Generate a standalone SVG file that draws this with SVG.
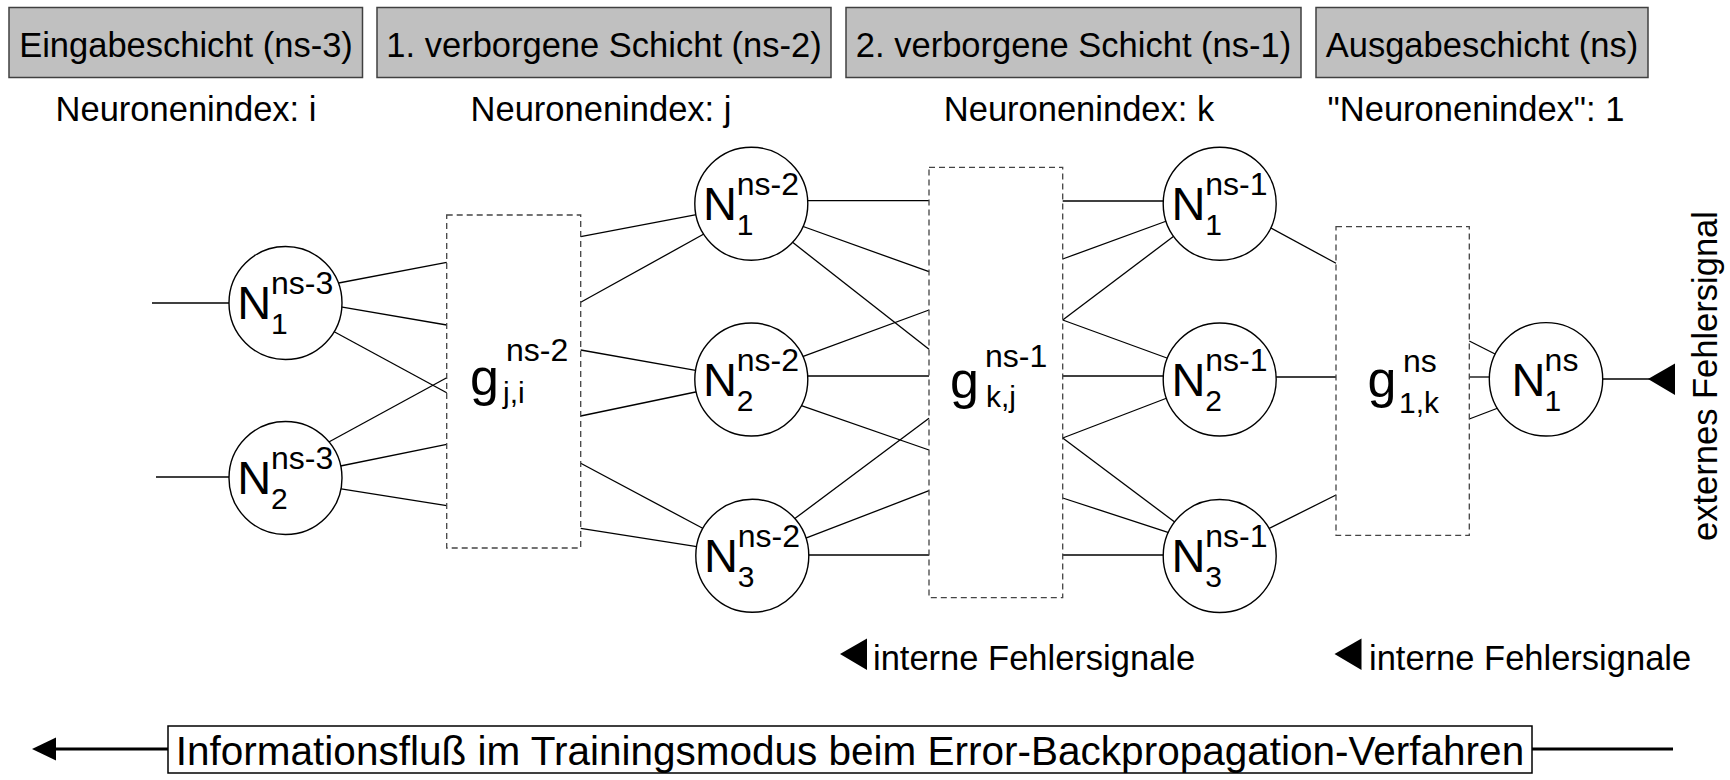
<svg xmlns="http://www.w3.org/2000/svg" width="1730" height="780" viewBox="0 0 1730 780">
<style>
text{font-family:"Liberation Sans",Arial,sans-serif;fill:#000}
.hdr{fill:#c0c0c0;stroke:#404040;stroke-width:1.5}
.ht{font-size:34.5px;text-anchor:middle}
.gbox{fill:none;stroke:#444;stroke-width:1.3;stroke-dasharray:6 4}
.neuron{fill:#fff;stroke:#000;stroke-width:1.4}
.conn line{stroke:#000;stroke-width:1.3}
.big{font-size:47px}
.gg{font-size:52px}
.sup{font-size:32px}
.sub{font-size:30px}
</style>

<g id="headers">
<rect class="hdr" x="9" y="7.5" width="353.5" height="70"/>
<text class="ht" x="186" y="56.5">Eingabeschicht (ns-3)</text>
<rect class="hdr" x="377" y="7.5" width="454" height="70"/>
<text class="ht" x="604" y="56.5">1. verborgene Schicht (ns-2)</text>
<rect class="hdr" x="846" y="7.5" width="455" height="70"/>
<text class="ht" x="1073.5" y="56.5">2. verborgene Schicht (ns-1)</text>
<rect class="hdr" x="1316" y="7.5" width="332" height="70"/>
<text class="ht" x="1482" y="56.5">Ausgabeschicht (ns)</text>
</g>

<g id="indices">
<text class="ht" x="186" y="121">Neuronenindex: i</text>
<text class="ht" x="601" y="121">Neuronenindex: j</text>
<text class="ht" x="1079" y="121">Neuronenindex: k</text>
<text class="ht" x="1476" y="121">"Neuronenindex": 1</text>
</g>

<g id="connectors" class="conn">
<line x1="152" y1="303" x2="232" y2="303"/>
<line x1="156" y1="477" x2="232" y2="477"/>
<!-- ns-3 to g(j,i) -->
<line x1="336" y1="283.5" x2="446.7" y2="262.3"/>
<line x1="338" y1="306.4" x2="446.7" y2="325"/>
<line x1="331" y1="330" x2="446.7" y2="392.7"/>
<line x1="327" y1="443" x2="446.7" y2="377.7"/>
<line x1="338" y1="466.5" x2="446.7" y2="444.3"/>
<line x1="338" y1="488.3" x2="446.7" y2="505.7"/>
<!-- g(j,i) to ns-2 -->
<line x1="580.7" y1="236.7" x2="699" y2="214.2"/>
<line x1="580.7" y1="302.3" x2="707" y2="232.3"/>
<line x1="580.7" y1="350" x2="697" y2="370.6"/>
<line x1="580.7" y1="416" x2="698" y2="391.5"/>
<line x1="580.7" y1="463.3" x2="705" y2="529.5"/>
<line x1="580.7" y1="528.3" x2="700" y2="547.2"/>
<!-- ns-2 to g(k,j) -->
<line x1="804" y1="200.7" x2="929" y2="200.7"/>
<line x1="799" y1="225" x2="929" y2="271.7"/>
<line x1="790" y1="240.3" x2="929" y2="349.3"/>
<line x1="800.5" y1="357.4" x2="929" y2="310"/>
<line x1="804" y1="376" x2="929" y2="376"/>
<line x1="798.5" y1="404.7" x2="929" y2="450"/>
<line x1="792.5" y1="520.3" x2="929" y2="418.3"/>
<line x1="804.5" y1="538.7" x2="929" y2="490.7"/>
<line x1="805" y1="555" x2="929" y2="555"/>
<!-- g(k,j) to ns-1 -->
<line x1="1062.7" y1="201" x2="1167" y2="201"/>
<line x1="1062.7" y1="259" x2="1168" y2="220.5"/>
<line x1="1062.7" y1="320" x2="1176" y2="234.5"/>
<line x1="1062.7" y1="320" x2="1171" y2="359.5"/>
<line x1="1062.7" y1="376" x2="1167" y2="376"/>
<line x1="1062.7" y1="438" x2="1171" y2="396.5"/>
<line x1="1062.7" y1="438" x2="1176" y2="523"/>
<line x1="1062.7" y1="498" x2="1171" y2="533.3"/>
<line x1="1062.7" y1="555" x2="1167" y2="555"/>
<!-- ns-1 to g(1,k) -->
<line x1="1268" y1="226.3" x2="1336" y2="263.3"/>
<line x1="1272" y1="377" x2="1336" y2="377"/>
<line x1="1267" y1="529.5" x2="1336" y2="495"/>
<!-- g(1,k) to ns -->
<line x1="1469.3" y1="341" x2="1499" y2="356"/>
<line x1="1469.3" y1="377" x2="1493" y2="377"/>
<line x1="1469.3" y1="419" x2="1502" y2="406.5"/>
<!-- external error signal -->
<line x1="1600" y1="379" x2="1652" y2="379"/>
<polygon points="1648,379 1675,363.5 1675,395" fill="#000"/>
</g>

<g id="g_ji">
<rect class="gbox" x="446.7" y="215" width="134" height="333"/>
<text class="gg" x="470" y="395">g</text>
<text class="sup" x="506" y="361">ns-2</text>
<text class="sub" x="503" y="403">j,i</text>
</g>
<g id="g_kj">
<rect class="gbox" x="929" y="167.3" width="133.7" height="430.4"/>
<text class="gg" x="950" y="398.3">g</text>
<text class="sup" x="985" y="366.7">ns-1</text>
<text class="sub" x="986" y="407">k,j</text>
</g>
<g id="g_1k">
<rect class="gbox" x="1336" y="226.7" width="133.3" height="308.6"/>
<text class="gg" x="1367.4" y="396.7">g</text>
<text class="sup" x="1403" y="371.7">ns</text>
<text class="sub" x="1399" y="413.3">1,k</text>
</g>

<g id="n1_ns3">
<circle class="neuron" cx="285.5" cy="303" r="56.5"/>
<text class="big" x="237.2" y="319.3">N</text>
<text class="sup" x="271" y="294.3">ns-3</text>
<text class="sub" x="271" y="334.3">1</text>
</g>
<g id="n2_ns3">
<circle class="neuron" cx="285.5" cy="478" r="56.5"/>
<text class="big" x="237.2" y="494.3">N</text>
<text class="sup" x="271" y="469.3">ns-3</text>
<text class="sub" x="271" y="509.3">2</text>
</g>

<g id="n1_ns2">
<circle class="neuron" cx="751.3" cy="203.7" r="56.5"/>
<text class="big" x="703" y="220">N</text>
<text class="sup" x="736.8" y="195">ns-2</text>
<text class="sub" x="736.8" y="235">1</text>
</g>
<g id="n2_ns2">
<circle class="neuron" cx="751.3" cy="379.5" r="56.5"/>
<text class="big" x="703" y="395.8">N</text>
<text class="sup" x="736.8" y="370.8">ns-2</text>
<text class="sub" x="736.8" y="410.8">2</text>
</g>
<g id="n3_ns2">
<circle class="neuron" cx="752.3" cy="555.8" r="56.5"/>
<text class="big" x="704" y="572.1">N</text>
<text class="sup" x="737.8" y="547.1">ns-2</text>
<text class="sub" x="737.8" y="587.1">3</text>
</g>

<g id="n1_ns1">
<circle class="neuron" cx="1219.7" cy="203.7" r="56.5"/>
<text class="big" x="1171.4" y="220">N</text>
<text class="sup" x="1205.2" y="195">ns-1</text>
<text class="sub" x="1205.2" y="235">1</text>
</g>
<g id="n2_ns1">
<circle class="neuron" cx="1219.7" cy="379.5" r="56.5"/>
<text class="big" x="1171.4" y="395.8">N</text>
<text class="sup" x="1205.2" y="370.8">ns-1</text>
<text class="sub" x="1205.2" y="410.8">2</text>
</g>
<g id="n3_ns1">
<circle class="neuron" cx="1219.7" cy="556" r="56.5"/>
<text class="big" x="1171.4" y="572.3">N</text>
<text class="sup" x="1205.2" y="547.3">ns-1</text>
<text class="sub" x="1205.2" y="587.3">3</text>
</g>

<g id="n1_ns">
<circle class="neuron" cx="1546" cy="379.3" r="56.7"/>
<text class="big" x="1511.4" y="395.6">N</text>
<text class="sup" x="1544.6" y="370.6">ns</text>
<text class="sub" x="1544.6" y="410.6">1</text>
</g>

<g id="ext_label">
<text class="ht" transform="translate(1717,376) rotate(-90)" x="0" y="0">externes Fehlersignal</text>
</g>

<g id="internal_signals">
<polygon points="840,654 867,638.5 867,670" fill="#000"/>
<text font-size="34.5" x="873" y="670">interne Fehlersignale</text>
<polygon points="1334.5,654 1361.5,638.5 1361.5,670" fill="#000"/>
<text font-size="34.5" x="1369" y="670">interne Fehlersignale</text>
</g>

<g id="flow">
<line x1="52" y1="749" x2="168" y2="749" stroke="#000" stroke-width="3"/>
<polygon points="32,749 56,737.5 56,760.5" fill="#000"/>
<line x1="1532" y1="749" x2="1673" y2="749" stroke="#000" stroke-width="3"/>
<rect x="168" y="726" width="1364" height="47" fill="#fff" stroke="#000" stroke-width="1.5"/>
<text font-size="40.5" text-anchor="middle" x="850" y="765">Informationsfluß im Trainingsmodus beim Error-Backpropagation-Verfahren</text>
</g>
</svg>
